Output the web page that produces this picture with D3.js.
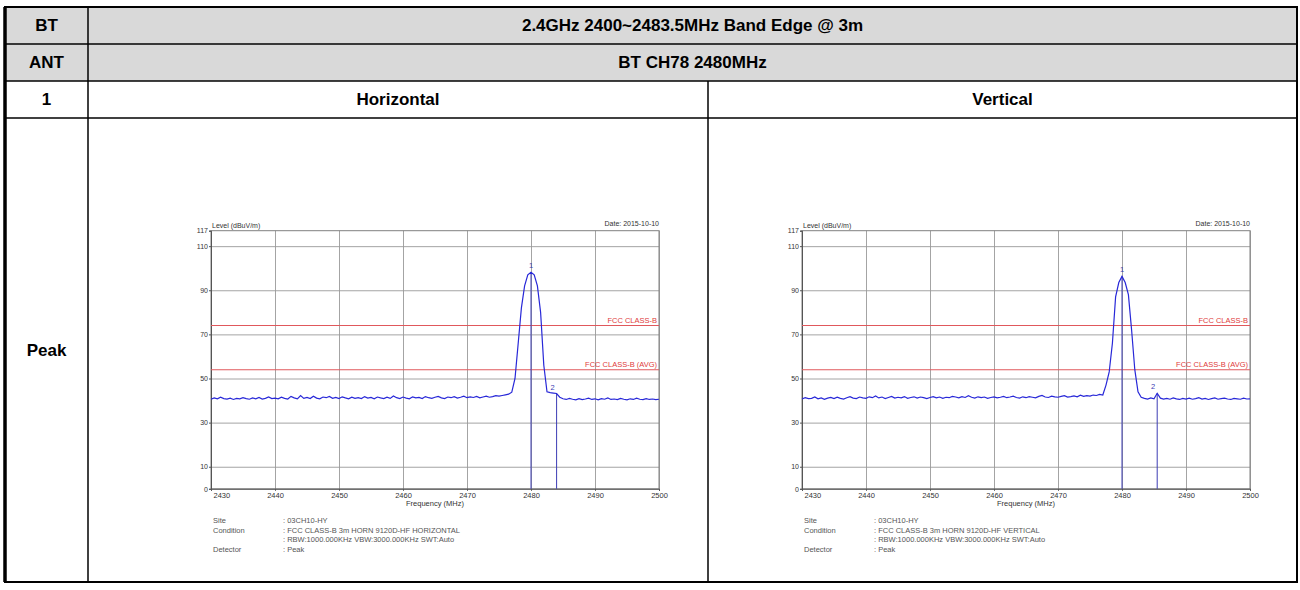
<!DOCTYPE html>
<html>
<head>
<meta charset="utf-8">
<script src="https://cdn.jsdelivr.net/npm/d3@7"></script>
<style>
body { margin: 0; background: #fff; }
svg { display: block; }
</style>
</head>
<body>
<div id="page"></div>
<script>
// table texts
let headTitle = '2.4GHz 2400~2483.5MHz Band Edge @ 3m';
let headChannel = 'BT CH78 2480MHz';
let rowLabels = ['BT', 'ANT', '1', 'Peak'];
let polarisations = ['Horizontal', 'Vertical'];

// plot axes
let levelTicks = [0, 10, 30, 50, 70, 90, 110, 117];
let freqTicks = [2430, 2440, 2450, 2460, 2470, 2480, 2490, 2500];
let limitLevels = [74, 54];
let limitLabels = ['FCC CLASS-B', 'FCC CLASS-B (AVG)'];

// sweep 2430 - 2500 MHz, one reading every 0.5 MHz
let sweepFreq = d3.range(2430, 2500.25, 0.5);

let horizontalLevel = [
    40.6, 41.2, 40.8, 41.5, 40.9, 40.7, 41.1, 40.5, 41.0, 40.8,
    41.3, 40.9, 40.6, 41.2, 40.8, 41.4, 40.7, 41.0, 41.6, 40.9,
    41.1, 40.8, 41.5, 41.0, 40.7, 41.9, 41.2, 40.8, 42.3, 41.0,
    41.4, 40.9, 42.0, 41.1, 40.8, 41.6, 41.3, 41.9, 41.0, 41.4,
    40.9, 41.7, 41.2, 40.8, 41.5, 41.0, 41.3, 40.9, 41.8, 41.1,
    41.4, 40.8, 41.6, 41.2, 40.9, 41.5, 41.0, 42.1, 41.3, 40.9,
    41.6, 41.1, 40.8, 41.7, 41.2, 41.4, 40.9, 41.8, 41.3, 41.0,
    41.5, 41.9, 41.2, 40.9, 41.6, 41.3, 41.8, 41.1, 41.5, 42.0,
    41.3, 41.7, 41.4, 41.9, 41.2, 41.6, 42.0, 41.5, 41.8, 42.2,
    42.0, 42.3, 42.6, 42.9, 43.8, 50.0, 66.0, 82.0, 92.0, 97.0,
    98.2, 97.0, 92.0, 80.0, 56.0, 44.0, 43.6, 43.4, 43.2, 41.5,
    40.8, 40.5, 41.0, 40.6, 40.3, 40.9, 40.4, 40.7, 41.1, 40.5,
    40.8, 40.3, 40.9, 40.6, 41.2, 40.5, 40.7, 40.4, 41.0, 40.6,
    40.3, 40.8, 40.5, 41.1, 40.6, 40.4, 40.9, 40.5, 40.7, 40.4,
    40.6
];

let verticalLevel = [
    40.7, 41.3, 40.9, 41.0, 41.6, 40.8, 41.2, 40.6, 41.1, 41.4,
    40.9, 41.5, 41.0, 40.7, 41.3, 41.8, 41.1, 40.9, 41.6, 41.2,
    41.0, 41.7, 41.3, 42.1, 41.2, 41.6, 40.9, 41.4, 41.9, 41.1,
    41.5, 41.2, 41.8, 41.0, 41.4, 41.7, 41.1, 41.6, 41.3, 40.9,
    41.4, 41.8, 41.2, 41.6, 41.0, 41.5, 41.3, 41.9, 41.6, 41.2,
    41.8, 41.4, 42.2, 41.5, 41.1, 41.7, 41.3, 41.6, 41.0, 41.4,
    41.7, 41.2, 41.5, 41.9, 41.3, 41.6, 42.0, 41.4, 41.1, 41.7,
    41.3, 41.8, 41.5, 41.2, 41.9, 42.3, 41.6, 41.4, 42.0, 41.7,
    41.5, 41.9, 42.2, 41.6, 41.8, 42.1, 41.7, 42.4, 41.9, 42.2,
    42.0, 42.5, 42.3, 42.8, 42.5, 47.0, 53.0, 66.0, 87.0, 93.5,
    96.3, 93.5, 88.0, 72.0, 54.0, 44.0, 41.5, 41.0, 40.7, 41.2,
    40.8, 43.3, 41.1, 40.7, 41.0, 40.6, 41.2, 40.8, 40.5, 41.0,
    40.7, 41.1, 40.6, 40.9, 41.3, 40.7, 41.0, 40.5, 40.9, 41.2,
    40.6, 40.9, 41.1, 40.7, 40.5, 41.0, 40.8, 40.6, 41.1, 40.7,
    40.8
];

let markerFreqH = [2480, 2484];
let markerLevelH = [98.2, 43.2];
let markerFreqV = [2480, 2485.5];
let markerLevelV = [96.3, 43.3];

let infoLabels = ['Site', 'Condition', '', 'Detector'];
let infoH = [': 03CH10-HY', ': FCC CLASS-B 3m HORN 9120D-HF HORIZONTAL', ': RBW:1000.000KHz VBW:3000.000KHz SWT:Auto', ': Peak'];
let infoV = [': 03CH10-HY', ': FCC CLASS-B 3m HORN 9120D-HF VERTICAL', ': RBW:1000.000KHz VBW:3000.000KHz SWT:Auto', ': Peak'];
let plotDate = 'Date: 2015-10-10';

let width = 1300;
let height = 590;

let svg = d3.select('#page')
    .append('svg')
    .attr('width', width)
    .attr('height', height);

// ---- table ----
let tLeft = 5, tRight = 1297, col1 = 88, col2 = 708;
let rows = [7, 44, 81, 118, 582];
let cellFont = 'Liberation Sans, Arial, sans-serif';

svg.append('rect')
    .attr('x', tLeft).attr('y', rows[0])
    .attr('width', tRight - tLeft).attr('height', rows[2] - rows[0])
    .attr('fill', '#d9d9d9');

let lines = [
    [tLeft, rows[1], tRight, rows[1]],
    [tLeft, rows[2], tRight, rows[2]],
    [tLeft, rows[3], tRight, rows[3]],
    [col1, rows[0], col1, rows[4]],
    [col2, rows[2], col2, rows[4]]
];
svg.selectAll('.grid-line')
    .data(lines)
    .enter()
    .append('line')
        .attr('x1', d => d[0]).attr('y1', d => d[1])
        .attr('x2', d => d[2]).attr('y2', d => d[3])
        .attr('stroke', '#000')
        .attr('stroke-width', 1.5);

svg.append('rect')
    .attr('x', tLeft).attr('y', rows[0])
    .attr('width', tRight - tLeft).attr('height', rows[4] - rows[0])
    .attr('fill', 'none')
    .attr('stroke', '#000')
    .attr('stroke-width', 2);
svg.append('line')
    .attr('x1', tLeft).attr('x2', tLeft)
    .attr('y1', rows[0]).attr('y2', rows[4])
    .attr('stroke', '#000').attr('stroke-width', 3.5);

rowLabels.forEach((t, i) => {
    svg.append('text')
        .attr('x', (tLeft + col1) / 2)
        .attr('y', (rows[i] + rows[i + 1]) / 2)
        .attr('dy', '0.35em')
        .attr('text-anchor', 'middle')
        .style('font', `bold 17px ${cellFont}`)
        .text(t);
});

let headTexts = [
    {t: headTitle, x: (col1 + tRight) / 2, y: (rows[0] + rows[1]) / 2},
    {t: headChannel, x: (col1 + tRight) / 2, y: (rows[1] + rows[2]) / 2},
    {t: polarisations[0], x: (col1 + col2) / 2, y: (rows[2] + rows[3]) / 2},
    {t: polarisations[1], x: (col2 + tRight) / 2, y: (rows[2] + rows[3]) / 2}
];
svg.selectAll('.head')
    .data(headTexts)
    .enter()
    .append('text')
        .attr('x', d => d.x)
        .attr('y', d => d.y)
        .attr('dy', '0.35em')
        .attr('text-anchor', 'middle')
        .style('font', `bold 17px ${cellFont}`)
        .text(d => d.t);

// ---- spectrum plots ----
let plotTop = 230.7;
let plotBottom = 488.8;
let plotW = 448;
let smallFont = 'Liberation Sans, Arial, sans-serif';

function drawPlot(left, levels, mFreq, mLevel, info) {
    let x = d3.scaleLinear().domain([2430, 2500]).range([left, left + plotW]);
    let y = d3.scaleLinear().domain([0, 117]).range([plotBottom, plotTop]);
    let g = svg.append('g');

    // grid through the axes
    g.append('g')
        .attr('transform', `translate(0, ${plotBottom})`)
        .call(d3.axisBottom(x).tickValues(freqTicks).tickSize(-(plotBottom - plotTop)).tickFormat(''))
        .call(a => a.select('.domain').remove())
        .selectAll('line').attr('stroke', '#9a9a9a').attr('stroke-width', 0.9);
    g.append('g')
        .attr('transform', `translate(${left}, 0)`)
        .call(d3.axisLeft(y).tickValues(levelTicks.slice(1, -1)).tickSize(-plotW).tickFormat(''))
        .call(a => a.select('.domain').remove())
        .selectAll('line').attr('stroke', '#9a9a9a').attr('stroke-width', 0.9);

    g.append('rect')
        .attr('x', left).attr('y', plotTop)
        .attr('width', plotW).attr('height', plotBottom - plotTop)
        .attr('fill', 'none').attr('stroke', '#808080').attr('stroke-width', 1);

    // tick labels
    let yAxis = g.append('g')
        .attr('transform', `translate(${left}, 0)`)
        .call(d3.axisLeft(y).tickValues(levelTicks).tickSize(2).tickPadding(1).tickFormat(d3.format('d')));
    yAxis.select('.domain').attr('stroke', '#555');
    yAxis.selectAll('line').attr('stroke', '#555');
    yAxis.selectAll('text').style('font', `7px ${smallFont}`).attr('fill', '#333');

    let xAxis = g.append('g')
        .attr('transform', `translate(0, ${plotBottom})`)
        .call(d3.axisBottom(x).tickValues(freqTicks).tickSize(2).tickPadding(2).tickFormat(d3.format('d')));
    xAxis.select('.domain').attr('stroke', '#555');
    xAxis.selectAll('line').attr('stroke', '#555');
    xAxis.selectAll('text').style('font', `7.5px ${smallFont}`).attr('fill', '#333');
    xAxis.selectAll('text').filter(d => d === 2430).attr('text-anchor', 'start').attr('x', 2);

    g.append('text')
        .attr('x', left + plotW / 2).attr('y', plotBottom + 17)
        .attr('text-anchor', 'middle')
        .style('font', `7.5px ${smallFont}`).attr('fill', '#333')
        .text('Frequency (MHz)');
    g.append('text')
        .attr('x', left + 1).attr('y', plotTop - 3)
        .style('font', `7px ${smallFont}`).attr('fill', '#333')
        .text('Level (dBuV/m)');
    g.append('text')
        .attr('x', left + plotW).attr('y', plotTop - 5)
        .attr('text-anchor', 'end')
        .style('font', `7px ${smallFont}`).attr('fill', '#333')
        .text(plotDate);

    // limit lines
    limitLevels.forEach((v, i) => {
        g.append('line')
            .attr('x1', x(2430)).attr('x2', x(2500))
            .attr('y1', y(v)).attr('y2', y(v))
            .attr('stroke', '#e0585c').attr('stroke-width', 1.1);
        g.append('text')
            .attr('x', x(2500) - 2).attr('y', y(v) - 3)
            .attr('text-anchor', 'end')
            .style('font', `7.5px ${smallFont}`).attr('fill', '#e03a3a')
            .text(limitLabels[i]);
    });

    // markers
    mFreq.forEach((f, i) => {
        g.append('line')
            .attr('x1', x(f)).attr('x2', x(f))
            .attr('y1', y(mLevel[i])).attr('y2', plotBottom)
            .attr('stroke', '#3c3cb4').attr('stroke-width', 1);
        g.append('text')
            .attr('x', x(f) - (i === 0 ? 0 : 2)).attr('y', y(mLevel[i]) - 4)
            .attr('text-anchor', i === 0 ? 'middle' : 'end')
            .style('font', `7.5px ${smallFont}`).attr('fill', '#3c3cb4')
            .text(i + 1);
    });

    // trace
    let trace = d3.line()
        .x((d, i) => x(sweepFreq[i]))
        .y(d => y(d));
    g.append('path')
        .datum(levels)
        .attr('d', trace)
        .attr('fill', 'none')
        .attr('stroke', '#2828d8')
        .attr('stroke-width', 1.2);

    // measurement info
    infoLabels.forEach((t, i) => {
        g.append('text')
            .attr('x', left + 2).attr('y', 523 + i * 9.6)
            .style('font', `7.5px ${smallFont}`).attr('fill', '#555')
            .text(t);
        g.append('text')
            .attr('x', left + 72).attr('y', 523 + i * 9.6)
            .style('font', `7.5px ${smallFont}`).attr('fill', '#555')
            .text(info[i]);
    });
}

drawPlot(211, horizontalLevel, markerFreqH, markerLevelH, infoH);
drawPlot(802, verticalLevel, markerFreqV, markerLevelV, infoV);
</script>
</body>
</html>
